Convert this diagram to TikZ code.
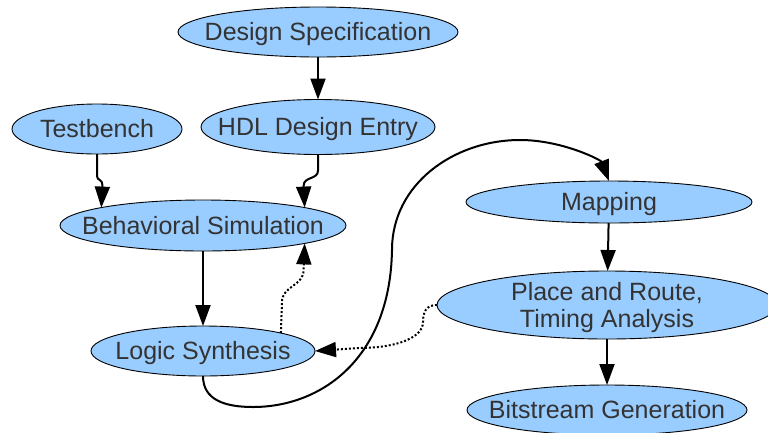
\documentclass[tikz,border=0pt]{standalone}
\usepackage{fontspec}
\setmainfont{Liberation Sans}
\usetikzlibrary{shapes.geometric,arrows.meta}
\definecolor{bubblefill}{HTML}{99CCFF}
\definecolor{bubbletext}{HTML}{333333}
\begin{document}
\begin{tikzpicture}[x=1pt,y=-1pt,
  bubble/.style={ellipse, draw=black, line width=0.9pt, fill=bubblefill,
    inner sep=0pt, outer sep=0pt},
  every label/.style={text=bubbletext, align=center, inner sep=0pt,
    font=\fontsize{25}{27}\selectfont},
  capline/.style={text height=17.9pt, text depth=0pt},
  tag/.style={label={[capline]center:{#1}}},
  flow/.style={line width=2pt, -{Triangle[length=21pt,width=15pt]}},
  feedback/.style={flow, dash pattern=on 2pt off 2pt}]
\useasboundingbox (0,0) rectangle (768,432);

% flow nodes
\node[bubble, minimum width=280pt, minimum height=50pt, tag={Design Specification}] (ds) at (318,32) {};
\node[bubble, minimum width=170pt, minimum height=50pt, tag={Testbench}] (tb) at (97,129) {};
\node[bubble, minimum width=234pt, minimum height=55pt, tag={HDL Design Entry}] (hdl) at (318,127) {};
\node[bubble, minimum width=286pt, minimum height=51pt, tag={Behavioral Simulation}] (bs) at (203,225.5) {};
\node[bubble, minimum width=224pt, minimum height=50pt, tag={Logic Synthesis}] (ls) at (203,351) {};
\node[bubble, minimum width=286pt, minimum height=42pt, tag={Mapping}] (map) at (609,202) {};
\node[bubble, minimum width=340pt, minimum height=68pt,
  label={[yshift=-2.5pt]center:{Place and Route,\\Timing Analysis}}] (pr) at (607,305) {};
\node[bubble, minimum width=280pt, minimum height=50pt, tag={Bitstream Generation}] (bg) at (607,410) {};

% main flow
\draw[flow] (ds) -- (hdl);
\draw[flow] (tb.south) -- ++(0,22) .. controls (97,181) and (102.4,178) .. (102.4,186) -- (bs.170);
\draw[flow] (hdl.south) -- ++(0,16) .. controls (318,180) and (303.6,176) .. (303.6,186) -- (bs.10);
\draw[flow] (bs) -- (ls);
\draw[flow] (ls.south) .. controls (203,400) and (225,407) .. (253,407)
  .. controls (320,407) and (390,360) .. (392,250)
  .. controls (392,184) and (454,140) .. (520,140)
  .. controls (562,140) and (601,160) .. (map.north);
\draw[flow] (map) -- (pr);
\draw[flow] (pr) -- (bg);

% feedback paths
\draw[feedback] (ls.13) -- (282,302) .. controls (282,286) and (303.6,286) .. (303.6,270) -- (bs.-10);
\draw[feedback] (pr.west) .. controls (426,305) and (423,312) .. (423,322)
  .. controls (423,340) and (390,348) .. (360,348) -- (ls.east);
\end{tikzpicture}
\end{document}
